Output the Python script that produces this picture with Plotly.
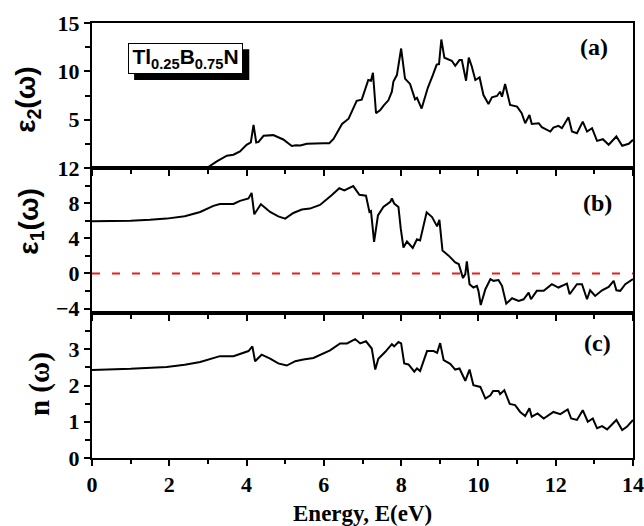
import plotly.graph_objects as go

# ---- data ----
e_eps2 = [0, 2.97, 3.23, 3.49, 3.66, 3.83, 4.0, 4.11, 4.18, 4.25, 4.31, 4.44, 4.69, 4.95, 5.17, 5.28, 5.39,
          5.56, 6.0, 6.14, 6.25, 6.47, 6.64, 6.85, 6.98, 7.15, 7.22, 7.27, 7.35, 7.46, 7.54, 7.67, 7.76, 7.80,
          7.89, 8.0, 8.10, 8.23, 8.36, 8.41, 8.53, 8.69, 8.82, 8.92, 8.98, 9.04, 9.12, 9.31, 9.40, 9.51, 9.57,
          9.68, 9.75, 9.83, 9.92, 10.03, 10.13, 10.26, 10.35, 10.48, 10.56, 10.61, 10.69, 10.82, 11.0, 11.12,
          11.21, 11.32, 11.38, 11.56, 11.64, 11.86, 11.94, 12.07, 12.16, 12.33, 12.42, 12.55, 12.70, 12.81,
          12.94, 13.07, 13.22, 13.37, 13.57, 13.72, 13.89, 14.0]
eps2 = [0, 0, 0.68, 1.27, 1.37, 1.71, 2.4, 2.64, 4.46, 2.64, 2.7, 3.33, 3.40, 2.95, 2.27, 2.35, 2.32,
        2.5, 2.55, 2.57, 3.0, 4.56, 5.1, 6.95, 7.07, 9.1, 9.03, 9.85, 5.66, 6.0, 6.42, 7.0, 7.9, 8.95,
        9.61, 12.36, 9.25, 8.7, 7.1, 7.25, 6.15, 8.3, 9.6, 10.7, 10.75, 13.29, 11.4, 11.09, 10.57, 11.16, 11.16,
        9.03, 11.43, 10.47, 9.1, 9.37, 7.55, 6.62, 7.31, 7.45, 7.89, 7.38, 8.68, 6.52, 6.35, 5.66,
        4.63, 5.49, 4.56, 4.63, 4.22, 3.77, 4.18, 4.36, 4.12, 5.25, 3.77, 3.6, 4.8, 3.77,
        4.12, 2.81, 2.98, 2.4, 3.26, 2.3, 2.5, 2.92]

e_eps1 = [0, 0.5, 1.0, 1.5, 1.93, 2.4, 2.8, 3.14, 3.31, 3.66, 3.83, 4.05, 4.13, 4.2, 4.37, 4.61, 4.82, 5.0,
          5.21, 5.43, 5.64, 5.90, 6.08, 6.2, 6.4, 6.53, 6.76, 6.92, 7.09, 7.18, 7.22, 7.30, 7.40, 7.54, 7.72,
          7.76, 7.82, 7.93, 7.99, 8.06, 8.15, 8.30, 8.41, 8.49, 8.66, 8.80, 8.93, 8.99, 9.07, 9.23, 9.40,
          9.49, 9.6, 9.66, 9.70, 9.77, 9.87, 9.96, 10.0, 10.06, 10.18, 10.31, 10.39, 10.52, 10.61, 10.72,
          10.87, 11.04, 11.17, 11.30, 11.36, 11.51, 11.69, 11.90, 12.07, 12.29, 12.36, 12.55, 12.68, 12.81,
          12.89, 13.02, 13.20, 13.37, 13.50, 13.57, 13.67, 13.80, 14.0]
eps1 = [5.93, 5.95, 6.0, 6.1, 6.24, 6.5, 7.0, 7.69, 7.91, 7.91, 8.26, 8.53, 9.17, 6.73, 7.88, 7.0, 6.5, 6.24,
        6.88, 7.27, 7.38, 7.8, 8.41, 8.9, 9.7, 9.45, 9.94, 8.95, 8.85, 7.0, 7.1, 3.6, 6.6, 7.57, 8.14,
        8.53, 7.96, 7.57, 5.09, 2.95, 3.64, 2.91, 3.88, 3.75, 6.96, 6.42, 5.36, 6.1, 2.6, 2.03, 1.26,
        1.07, -0.53, -0.07, 1.38, -1.22, -1.6, -1.41, -1.98, -3.59, -1.79, -0.64, -0.84, -0.76, -1.41, -3.44,
        -2.82, -3.13, -2.94, -2.18, -2.94, -1.98, -1.98, -1.22, -1.6, -1.15, -2.37, -1.22, -1.22, -2.94,
        -1.91, -2.56, -1.91, -1.53, -0.84, -1.91, -1.98, -1.22, -0.64]

e_n = [0, 1.0, 1.93, 2.4, 2.8, 3.14, 3.31, 3.66, 3.83, 4.05, 4.15, 4.22, 4.39, 4.61, 4.82, 5.04, 5.26, 5.47,
       5.73, 5.99, 6.16, 6.42, 6.6, 6.81, 6.94, 7.09, 7.2, 7.24, 7.33, 7.41, 7.59, 7.76, 7.82, 7.93, 8.0,
       8.08, 8.19, 8.34, 8.41, 8.49, 8.67, 8.84, 8.93, 9.01, 9.1, 9.27, 9.4, 9.51, 9.66, 9.77, 9.87, 10.05,
       10.18, 10.31, 10.38, 10.52, 10.56, 10.67, 10.81, 10.95, 11.08, 11.21, 11.32, 11.38, 11.53, 11.69,
       11.94, 12.12, 12.31, 12.4, 12.55, 12.70, 12.83, 12.96, 13.07, 13.2, 13.33, 13.57, 13.72, 13.84, 14.0]
n_vals = [2.43, 2.46, 2.51, 2.57, 2.65, 2.77, 2.81, 2.81, 2.88, 2.95, 3.08, 2.67, 2.85, 2.74, 2.61, 2.55, 2.67, 2.72,
          2.76, 2.88, 2.97, 3.16, 3.16, 3.28, 3.16, 3.22, 3.06, 3.02, 2.44, 2.74, 2.93, 3.14, 3.08, 3.2, 3.16,
          2.61, 2.58, 2.38, 2.47, 2.4, 2.95, 2.95, 2.9, 3.17, 2.7, 2.6, 2.44, 2.47, 2.13, 2.44, 2.01, 1.96,
          1.64, 1.73, 1.85, 1.85, 1.76, 1.87, 1.49, 1.46, 1.27, 1.16, 1.37, 1.14, 1.23, 1.09,
          1.27, 1.21, 1.34, 1.09, 1.05, 1.32, 1.0, 1.09, 0.82, 0.88, 0.79, 1.05, 0.77, 0.86, 1.05]

x_ticks = [0, 2, 4, 6, 8, 10, 12, 14]
eps2_ticks = [5, 10, 15]
eps1_ticks = [-4, 0, 4, 8, 12]
n_ticks = [0, 1, 2, 3]
panel_labels = ["(a)", "(b)", "(c)"]

SERIF = "Liberation Serif"
SANS = "Liberation Sans"
tickfont = dict(family=SERIF, size=22, color="black", weight="bold")
LW = 2

fig = go.Figure()
line = dict(color="black", width=2)
fig.add_trace(go.Scatter(x=e_n, y=n_vals, mode="lines", line=line, xaxis="x", yaxis="y", showlegend=False))
fig.add_trace(go.Scatter(x=e_eps1, y=eps1, mode="lines", line=line, xaxis="x2", yaxis="y2", showlegend=False))
fig.add_trace(go.Scatter(x=e_eps2, y=eps2, mode="lines", line=line, xaxis="x3", yaxis="y3", showlegend=False))


def xax(anchor, labels):
    return dict(anchor=anchor, domain=[0, 1], range=[0, 14], tickvals=x_ticks, ticks="outside",
                ticklen=6, tickwidth=1.5, tickcolor="black", showline=True, linecolor="black",
                linewidth=LW, mirror=True, showgrid=False, zeroline=False, showticklabels=labels,
                automargin=False, tickfont=tickfont,
                minor=dict(dtick=1, ticklen=4, tickwidth=1.5, tickcolor="black", ticks="outside"))


def yax(anchor, dom, rng, tv, minor):
    return dict(anchor=anchor, domain=dom, range=rng, tickmode="array", tickvals=tv, ticks="outside",
                ticklen=6, tickwidth=1.5, tickcolor="black", showline=True, linecolor="black",
                linewidth=LW, mirror=True, showgrid=False, zeroline=False, tickfont=tickfont,
                automargin=False,
                minor=dict(tickmode="array", tickvals=minor, ticklen=5, tickwidth=1.5, tickcolor="black",
                           ticks="outside"))


def yright(over, anchor, rng, tv):
    return dict(overlaying=over, anchor=anchor, side="right", range=rng, tickmode="array", tickvals=tv,
                ticks="inside", ticklen=6, tickwidth=1.5, tickcolor="black", showline=False,
                showgrid=False, zeroline=False, showticklabels=False, automargin=False)


fig.update_layout(
    template="none",
    width=644, height=526,
    margin=dict(l=92, r=11, t=23, b=68, autoexpand=False),
    plot_bgcolor="white", paper_bgcolor="white",
    xaxis=xax("y", True),
    xaxis2=xax("y2", False),
    xaxis3=xax("y3", False),
    xaxis4=dict(overlaying="x3", anchor="y3", side="top", range=[0, 14], dtick=1, tick0=0,
                ticks="inside", ticklen=4, tickwidth=1.5, tickcolor="black", showline=False,
                showgrid=False, zeroline=False, showticklabels=False, automargin=False),
    yaxis=yax("x", [0, 1 / 3], [0, 4], n_ticks, [0.5, 1.5, 2.5, 3.5]),
    yaxis2=yax("x2", [1 / 3, 2 / 3], [-4.5, 12], eps1_ticks, [-2, 2, 6, 10]),
    yaxis3=yax("x3", [2 / 3, 1], [0, 15], eps2_ticks, [2.5, 7.5, 12.5]),
    yaxis4=yright("y", "x", [0, 4], [0.5, 1, 1.5, 2, 2.5, 3, 3.5]),
    yaxis5=yright("y2", "x2", [-4.5, 12], [-4, -2, 0, 2, 4, 6, 8, 10]),
    yaxis6=yright("y3", "x3", [0, 15], [2.5, 5, 7.5, 10, 12.5]),
)

# red dashed zero line in panel (b)
fig.add_shape(type="line", xref="x2 domain", yref="y2", x0=0, x1=1, y0=0, y1=0,
              line=dict(color="#ee1c1c", width=2, dash="8px,12px"))

# axis titles
tfont_sans = dict(family=SANS, size=28, color="black", weight="bold")
tfont_serif = dict(family=SERIF, size=29, color="black", weight="bold")
fig.add_annotation(text="ε<sub>2</sub>(ω)", xref="paper", x=0, xshift=-64, yref="y3 domain", y=0.47,
                   textangle=-90, showarrow=False, font=tfont_sans, xanchor="center", yanchor="middle")
fig.add_annotation(text="ε<sub>1</sub>(ω)", xref="paper", x=0, xshift=-61, yref="y2 domain", y=0.63,
                   textangle=-90, showarrow=False, font=tfont_sans, xanchor="center", yanchor="middle")
fig.add_annotation(text="n (ω)", xref="paper", x=0, xshift=-53, yref="y domain", y=0.51,
                   textangle=-90, showarrow=False, font=tfont_serif, xanchor="center", yanchor="middle")
fig.add_annotation(text="Energy, E(eV)", xref="paper", x=0.5, yref="paper", y=0, yshift=-55,
                   showarrow=False, font=dict(family=SERIF, size=23, color="black", weight="bold"),
                   xanchor="center", yanchor="middle")

# panel labels
lab_font = dict(family=SERIF, size=24, color="black", weight="bold")
for lab, xa, ya, xv, yv in zip(panel_labels, ["x3", "x2", "x"], ["y3", "y2", "y"],
                               [13.0, 13.09, 13.07], [12.5, 8.03, 3.17]):
    fig.add_annotation(text=lab, xref=xa, yref=ya, x=xv, y=yv, showarrow=False, font=lab_font,
                       xanchor="center", yanchor="middle")

# compound label box with drop shadow
fig.add_shape(type="rect", xref="x3", yref="y3", x0=1.09, x1=4.07, y0=9.1, y1=12.29,
              fillcolor="black", line=dict(width=0), layer="above")
fig.add_annotation(text="Tl<sub>0.25</sub>B<sub>0.75</sub>N", xref="x3", yref="y3", x=2.42, y=11.3,
                   width=111, height=27, showarrow=False,
                   font=dict(family=SANS, size=21, color="black", weight="bold"),
                   bgcolor="white", bordercolor="black", borderwidth=1, borderpad=1)

fig.write_html("out.html", config={"displayModeBar": False},
               post_script="document.body.style.margin='0';document.body.style.overflow='hidden';")
